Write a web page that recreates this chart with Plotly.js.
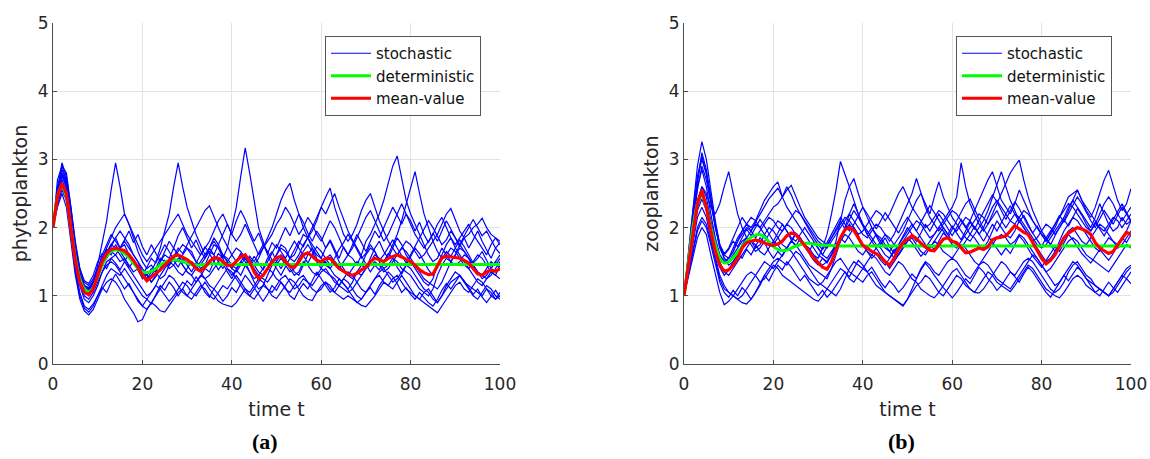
<!DOCTYPE html>
<html>
<head>
<meta charset="utf-8">
<script src="https://cdn.plot.ly/plotly-3.0.1.min.js"></script>
<style>html,body{margin:0;padding:0;background:#fff;}#chart{width:1150px;height:459px;}</style>
</head>
<body>
<div id="chart"></div>
<script>
// ---------- Panel (a): phytoplankton, t = 0..100 (step 1) ----------
const phytoStoch1 = [2.0,2.6,2.85,2.7,2.2,1.7,1.35,1.15,1.1,1.2,1.45,
1.75,2.1,2.55,2.95,2.6,2.2,2.05,1.85,1.65,1.5,
1.4,1.45,1.35,1.5,1.6,1.55,1.7,1.6,1.45,1.35,
1.3,1.2,1.28,1.4,1.35,1.5,1.62,1.55,1.4,1.3,
1.38,1.5,1.45,1.35,1.2,1.1,1.15,1.3,1.45,1.6,
1.75,1.7,1.55,1.6,1.75,1.9,1.85,1.7,1.55,1.45,
1.5,1.4,1.3,1.25,1.18,1.1,1.2,1.35,1.3,1.4,
1.55,1.7,1.8,1.65,1.55,1.7,1.85,1.75,1.6,1.5,
1.4,1.3,1.2,1.15,1.25,1.45,1.6,1.75,1.85,1.7,
1.6,1.5,1.4,1.3,1.2,1.15,1.25,1.35,1.3,1.45];
const phytoStoch2 = [2.0,2.4,2.7,2.55,2.0,1.5,1.15,0.95,0.9,1.0,1.15,
1.35,1.5,1.55,1.6,1.5,1.55,1.45,1.35,1.4,1.3,
1.25,1.35,1.5,1.7,1.95,2.2,2.6,2.95,2.6,2.3,
2.1,1.9,1.75,1.6,1.7,1.85,1.75,1.6,1.5,1.4,
1.5,1.6,1.5,1.35,1.25,1.3,1.4,1.55,1.65,1.5,
1.4,1.5,1.45,1.35,1.3,1.45,1.6,1.7,1.6,1.55,
1.7,1.8,1.65,1.5,1.4,1.3,1.25,1.35,1.45,1.6,
1.7,1.65,1.5,1.4,1.45,1.55,1.5,1.4,1.35,1.3,
1.2,1.1,1.05,1.0,1.1,1.3,1.45,1.55,1.5,1.6,
1.75,1.65,1.55,1.4,1.35,1.25,1.3,1.4,1.5,1.6];
const phytoStoch3 = [2.0,2.55,2.95,2.75,2.3,1.75,1.4,1.2,1.15,1.25,1.4,
1.6,1.75,1.9,1.8,1.7,1.75,1.6,1.5,1.45,1.35,
1.3,1.4,1.35,1.25,1.3,1.45,1.55,1.5,1.6,1.7,
1.65,1.5,1.4,1.45,1.6,1.75,1.7,1.55,1.7,2.0,
2.3,2.75,3.17,2.8,2.4,2.0,1.8,1.6,1.45,1.5,
1.6,1.55,1.4,1.3,1.35,1.5,1.45,1.35,1.3,1.4,
1.55,1.6,1.5,1.4,1.5,1.6,1.55,1.45,1.6,1.8,
1.9,2.05,2.2,2.4,2.65,2.9,3.05,2.7,2.4,2.2,
2.05,1.9,1.75,1.6,1.5,1.55,1.7,1.6,1.5,1.45,
1.5,1.6,1.55,1.45,1.35,1.3,1.4,1.5,1.45,1.55];
const phytoStoch4 = [2.0,2.3,2.5,2.3,1.8,1.3,0.95,0.78,0.72,0.8,0.95,
1.1,1.2,1.25,1.2,1.1,0.95,0.85,0.75,0.62,0.65,
0.8,0.9,0.85,0.78,0.76,0.85,0.95,1.05,1.1,1.0,
0.95,1.05,1.15,1.1,1.0,0.95,1.05,1.15,1.1,1.2,
1.3,1.2,1.1,1.0,0.95,1.05,1.15,1.1,1.0,0.96,
1.05,1.15,1.25,1.2,1.1,1.0,0.95,0.93,1.05,1.15,
1.2,1.1,1.05,1.15,1.25,1.2,1.1,1.0,0.95,1.05,
1.15,1.25,1.3,1.2,1.15,1.25,1.3,1.2,1.1,1.05,
1.0,0.95,1.05,1.1,1.0,0.9,1.0,1.1,1.2,1.25,
1.3,1.2,1.15,1.1,1.05,1.0,1.1,1.05,0.95,1.0];
const phytoStoch5 = [2.0,2.5,2.8,2.6,2.1,1.6,1.3,1.1,1.05,1.15,1.3,
1.45,1.55,1.65,1.6,1.7,1.8,1.7,1.6,1.5,1.4,
1.3,1.2,1.3,1.4,1.5,1.45,1.55,1.65,1.75,1.7,
1.6,1.5,1.45,1.55,1.65,1.6,1.5,1.4,1.5,1.6,
1.7,1.65,1.55,1.5,1.45,1.55,1.7,1.85,2.0,2.2,
2.4,2.55,2.65,2.4,2.2,2.0,1.85,1.75,1.65,1.55,
1.45,1.4,1.5,1.45,1.35,1.3,1.4,1.5,1.45,1.4,
1.5,1.6,1.55,1.5,1.6,1.75,1.9,2.1,2.35,2.6,
2.82,2.5,2.2,2.0,1.8,1.65,1.55,1.6,1.7,1.65,
1.55,1.45,1.4,1.5,1.6,1.55,1.45,1.35,1.3,1.25];
const phytoStoch6 = [2.0,2.35,2.6,2.45,1.95,1.4,1.05,0.85,0.8,0.88,1.0,
1.15,1.3,1.4,1.35,1.3,1.4,1.3,1.2,1.1,1.0,
0.95,1.05,1.15,1.1,1.0,0.92,1.0,1.1,1.2,1.15,
1.05,1.0,1.1,1.2,1.1,1.0,0.92,0.88,0.86,0.84,
0.9,1.0,1.1,1.05,1.15,1.25,1.2,1.1,1.05,1.15,
1.25,1.3,1.2,1.1,1.15,1.25,1.2,1.1,1.05,1.1,
1.2,1.15,1.05,1.0,0.95,1.0,0.95,0.9,0.86,0.84,
0.92,1.0,1.1,1.2,1.15,1.1,1.2,1.3,1.2,1.1,
1.0,0.95,0.9,0.85,0.8,0.75,0.85,0.95,1.05,1.15,
1.2,1.1,1.05,1.15,1.25,1.2,1.1,1.0,0.95,1.05];
const phytoStoch7 = [2.0,2.45,2.75,2.6,2.15,1.65,1.3,1.1,1.0,1.1,1.25,
1.45,1.6,1.75,1.85,1.95,1.85,1.75,1.6,1.5,1.35,
1.25,1.3,1.4,1.55,1.5,1.4,1.45,1.55,1.45,1.35,
1.3,1.4,1.5,1.6,1.7,1.8,1.7,1.6,1.55,1.45,
1.4,1.5,1.6,1.55,1.45,1.35,1.3,1.4,1.5,1.6,
1.7,1.65,1.55,1.5,1.6,1.75,1.85,1.95,2.1,2.3,
2.45,2.58,2.3,2.1,1.9,1.8,1.9,2.05,2.25,2.4,
2.5,2.3,2.1,1.95,1.8,1.7,1.6,1.7,1.8,1.75,
1.65,1.55,1.6,1.7,1.8,1.9,2.05,2.2,2.28,2.1,
1.95,1.85,1.9,2.0,2.05,2.14,2.0,1.9,1.85,1.75];
const phytoStoch8 = [2.0,2.5,2.9,2.7,2.25,1.7,1.35,1.15,1.12,1.2,1.35,
1.5,1.65,1.75,1.7,1.6,1.5,1.4,1.3,1.2,1.1,
1.0,1.05,1.15,1.3,1.4,1.5,1.45,1.35,1.3,1.4,
1.5,1.45,1.35,1.25,1.3,1.4,1.5,1.6,1.5,1.4,
1.35,1.45,1.55,1.5,1.4,1.3,1.25,1.2,1.3,1.45,
1.55,1.45,1.35,1.4,1.55,1.65,1.75,1.65,1.5,1.4,
1.35,1.3,1.25,1.15,1.1,1.05,1.1,1.2,1.3,1.4,
1.45,1.5,1.45,1.35,1.4,1.5,1.6,1.7,1.65,1.55,
1.45,1.35,1.25,1.2,1.15,1.1,1.2,1.35,1.5,1.6,
1.7,1.65,1.55,1.45,1.35,1.3,1.25,1.3,1.4,1.5];
const phytoStoch9 = [2.0,2.4,2.65,2.5,2.05,1.55,1.2,1.0,0.95,1.05,1.2,
1.35,1.45,1.5,1.45,1.35,1.25,1.15,1.05,0.95,0.85,
0.8,0.9,1.0,1.1,1.2,1.3,1.25,1.15,1.05,1.0,
1.1,1.2,1.3,1.25,1.15,1.1,1.2,1.3,1.4,1.35,
1.25,1.15,1.05,1.0,1.1,1.2,1.3,1.4,1.35,1.25,
1.2,1.1,1.05,1.15,1.25,1.3,1.2,1.15,1.25,1.35,
1.4,1.3,1.2,1.15,1.25,1.35,1.3,1.2,1.1,1.05,
1.15,1.25,1.35,1.4,1.3,1.2,1.25,1.35,1.45,1.4,
1.3,1.2,1.1,1.05,0.95,0.9,1.0,1.15,1.25,1.35,
1.3,1.2,1.1,1.0,0.95,1.05,1.15,1.1,1.0,0.95];
const phytoStoch10 = [2.0,2.55,2.8,2.65,2.15,1.65,1.3,1.12,1.08,1.18,1.35,
1.55,1.7,1.85,2.0,2.1,2.2,2.05,1.9,1.75,1.6,
1.5,1.6,1.7,1.8,1.9,2.0,2.1,2.2,2.05,1.9,
1.8,1.7,1.6,1.7,1.8,1.95,2.1,2.2,2.05,1.9,
1.8,1.9,2.05,1.9,1.75,1.6,1.7,1.8,1.9,2.05,
2.15,2.3,2.2,2.05,1.9,2.0,2.15,2.05,1.9,1.8,
1.95,2.1,2.0,1.85,1.7,1.6,1.7,1.85,2.0,2.15,
2.25,2.1,1.95,1.8,1.9,2.05,2.2,2.35,2.2,2.05,
1.9,1.8,1.7,1.8,1.9,2.05,2.15,2.0,1.85,1.75,
1.85,1.95,2.05,1.9,1.8,1.7,1.6,1.75,1.85,1.8];
const phytoStoch11 = [2.0,2.7,2.9,2.8,2.3,1.8,1.4,1.22,1.18,1.3,1.5,
1.62,1.55,1.72,1.85,1.7,1.82,1.95,1.78,1.9,1.72,
1.6,1.75,1.62,1.5,1.65,1.8,1.7,1.88,2.0,1.85,
1.7,1.82,1.66,1.55,1.7,1.6,1.75,1.92,2.05,1.9,
2.1,2.25,2.12,1.95,1.8,1.92,1.75,1.62,1.78,1.7,
1.85,2.0,1.88,2.05,2.2,2.08,1.92,1.8,1.95,1.85,
1.7,1.82,1.68,1.55,1.72,1.6,1.75,1.9,1.78,1.65,
1.8,1.95,1.85,2.0,2.15,2.3,2.18,2.05,2.2,2.1,
1.95,2.08,1.9,1.78,1.92,1.8,1.95,2.1,1.98,1.85,
1.72,1.85,1.7,1.82,1.95,1.8,1.68,1.55,1.7,1.62];
const phytoStoch12 = [2.0,2.35,2.55,2.4,1.9,1.35,1.0,0.82,0.76,0.85,1.0,
1.12,1.05,1.2,1.32,1.22,1.1,1.18,1.05,0.92,0.85,
0.95,0.88,1.02,1.15,1.08,1.2,1.12,1.0,1.1,1.22,
1.15,1.28,1.18,1.05,0.98,1.1,1.02,0.92,1.0,1.12,
1.05,1.18,1.3,1.22,1.12,1.0,0.92,1.02,1.15,1.08,
1.2,1.12,1.0,0.95,1.08,1.18,1.1,1.22,1.35,1.25,
1.15,1.05,1.12,1.25,1.18,1.08,0.98,0.9,0.95,1.05,
1.12,1.02,1.15,1.25,1.35,1.28,1.18,1.05,1.12,1.02,
0.95,1.05,0.98,0.9,0.85,0.95,1.08,1.18,1.1,1.2,
1.3,1.22,1.12,1.02,1.1,0.98,0.9,1.0,1.08,0.98];
const phytoStoch13 = [2.0,2.5,2.78,2.62,2.1,1.6,1.28,1.1,1.06,1.15,1.32,
1.48,1.4,1.55,1.48,1.38,1.5,1.62,1.52,1.4,1.3,
1.42,1.55,1.48,1.62,1.75,1.65,1.52,1.42,1.55,1.45,
1.35,1.48,1.6,1.72,1.62,1.5,1.38,1.48,1.35,1.25,
1.38,1.3,1.45,1.58,1.5,1.62,1.75,1.65,1.52,1.4,
1.3,1.42,1.55,1.68,1.8,1.72,1.85,2.0,2.15,2.3,
2.2,2.35,2.5,2.3,2.12,1.95,1.82,1.7,1.58,1.45,
1.35,1.45,1.38,1.5,1.62,1.55,1.42,1.32,1.45,1.58,
1.7,1.62,1.5,1.38,1.3,1.42,1.55,1.65,1.58,1.7,
1.82,1.72,1.6,1.48,1.55,1.65,1.52,1.4,1.5,1.38];
const phytoStoch14 = [2.0,2.45,2.8,2.68,2.2,1.68,1.32,1.15,1.1,1.22,1.4,
1.55,1.68,1.6,1.75,1.65,1.55,1.42,1.5,1.38,1.25,
1.32,1.2,1.28,1.4,1.52,1.45,1.58,1.7,1.62,1.75,
1.88,2.0,2.12,2.25,2.32,2.15,2.0,1.85,1.72,1.6,
1.5,1.62,1.55,1.45,1.58,1.48,1.38,1.5,1.62,1.75,
1.65,1.55,1.68,1.8,1.7,1.58,1.48,1.6,1.72,1.65,
1.55,1.45,1.55,1.68,1.78,1.9,1.8,1.68,1.55,1.62,
1.75,1.65,1.52,1.6,1.72,1.82,1.7,1.58,1.48,1.6,
1.72,1.85,1.98,2.1,2.0,1.88,1.75,1.82,1.95,1.85,
1.75,1.88,2.0,2.12,2.0,1.88,1.95,1.82,1.7,1.78];

const phytoMean = [2.0,2.45,2.65,2.5,2.0,1.5,1.2,1.05,1.02,1.1,1.3,
1.5,1.62,1.68,1.7,1.68,1.66,1.6,1.52,1.42,1.3,
1.22,1.27,1.33,1.38,1.45,1.52,1.58,1.6,1.57,1.53,
1.48,1.4,1.36,1.42,1.5,1.56,1.55,1.5,1.45,1.44,
1.5,1.57,1.6,1.5,1.35,1.25,1.3,1.4,1.5,1.56,
1.58,1.5,1.43,1.42,1.5,1.6,1.63,1.58,1.52,1.5,
1.55,1.55,1.48,1.4,1.36,1.32,1.3,1.33,1.38,1.42,
1.5,1.55,1.53,1.5,1.55,1.58,1.6,1.57,1.54,1.5,
1.45,1.38,1.34,1.31,1.32,1.45,1.56,1.58,1.57,1.57,
1.55,1.52,1.48,1.4,1.32,1.3,1.35,1.38,1.36,1.4];

const phytoDetT = [0,1,2,3,4,5,6,7,8,9,10,11,12,13,14,15,16,17,18,19,20,21,22,23,24,25,26,27,28,29,30,31,32,33,34,35,36,38,40,50,60,70,80,90,100];
const phytoDet  = [2.0,2.45,2.62,2.45,2.0,1.55,1.25,1.1,1.06,1.12,1.28,1.45,1.58,1.65,1.67,1.66,1.62,1.56,1.48,1.4,1.35,1.34,1.36,1.4,1.45,1.49,1.52,1.53,1.52,1.5,1.48,1.46,1.45,1.45,1.46,1.47,1.47,1.46,1.46,1.46,1.46,1.46,1.46,1.46,1.46];

// ---------- Panel (b): zooplankton, t = 0..100 (step 1) ----------
const zooStoch1 = [1.0,1.6,2.3,2.9,3.26,3.0,2.55,2.1,1.75,1.55,1.45,
1.5,1.6,1.75,1.85,1.8,1.7,1.75,1.9,2.0,1.95,
1.85,1.75,1.7,1.8,1.9,1.85,1.75,1.65,1.6,1.55,
1.7,1.9,2.2,2.55,2.97,2.8,2.6,2.4,2.2,2.05,
1.95,1.85,1.75,1.7,1.6,1.55,1.65,1.75,1.85,1.95,
2.05,1.95,1.85,1.75,1.7,1.8,1.9,2.0,1.9,1.8,
1.75,1.7,1.8,1.9,1.85,1.75,1.7,1.8,1.95,2.1,
2.0,1.9,1.85,1.95,2.1,2.0,1.9,1.8,1.7,1.6,
1.5,1.55,1.65,1.8,1.95,2.05,2.15,2.1,2.0,1.9,
1.8,1.7,1.65,1.75,1.85,1.8,1.7,1.75,1.85,1.95];
const zooStoch2 = [1.0,1.5,2.0,2.4,2.6,2.5,2.3,2.2,2.35,2.6,2.82,
2.5,2.2,2.0,1.85,1.75,1.65,1.7,1.8,1.9,2.0,
2.1,2.05,1.95,1.85,1.8,1.9,2.0,1.9,1.8,1.7,
1.6,1.55,1.65,1.75,1.85,1.95,2.05,1.95,1.85,1.75,
1.65,1.6,1.7,1.8,1.9,1.85,1.75,1.7,1.8,1.9,
2.0,2.1,2.05,1.95,1.85,1.9,2.0,2.1,2.2,2.3,
2.45,2.95,2.6,2.35,2.2,2.05,1.95,2.05,2.15,2.25,
2.1,2.0,2.1,2.2,2.15,2.05,1.95,1.85,1.75,1.7,
1.75,1.85,1.95,2.05,2.15,2.3,2.4,2.3,2.2,2.1,
2.0,2.15,2.35,2.2,2.05,1.95,2.0,2.15,2.05,2.1];
const zooStoch3 = [1.0,1.45,1.95,2.35,2.6,2.45,2.1,1.8,1.6,1.5,1.55,
1.65,1.8,1.95,2.05,2.0,2.1,2.25,2.4,2.5,2.6,
2.67,2.45,2.3,2.2,2.1,2.0,1.9,1.8,1.7,1.6,
1.55,1.5,1.6,1.7,1.8,1.9,1.85,1.75,1.65,1.6,
1.7,1.8,1.9,1.85,1.75,1.65,1.55,1.6,1.7,1.8,
1.9,1.85,1.75,1.7,1.8,1.9,2.0,1.95,1.85,1.75,
1.7,1.8,1.9,2.0,2.1,2.2,2.15,2.05,2.2,2.35,
2.5,2.65,2.8,2.9,2.99,2.7,2.45,2.25,2.1,1.95,
1.85,1.75,1.65,1.75,1.85,1.95,2.0,1.9,1.8,1.75,
1.85,1.95,2.05,2.0,1.9,1.8,1.75,1.85,1.95,2.1];
const zooStoch4 = [1.0,1.3,1.6,1.85,2.0,1.9,1.6,1.3,1.05,0.87,0.92,
1.0,1.1,1.2,1.3,1.35,1.3,1.2,1.25,1.35,1.45,
1.4,1.3,1.25,1.2,1.15,1.1,1.05,1.0,0.95,0.92,
1.0,1.1,1.2,1.3,1.4,1.35,1.25,1.2,1.3,1.4,
1.35,1.25,1.15,1.1,1.05,1.0,0.95,0.9,0.85,0.95,
1.05,1.15,1.2,1.3,1.25,1.15,1.05,1.0,1.1,1.2,
1.3,1.25,1.15,1.1,1.05,1.15,1.25,1.35,1.3,1.2,
1.15,1.1,1.06,1.15,1.25,1.35,1.45,1.4,1.3,1.2,
1.1,1.05,1.0,0.97,1.05,1.15,1.25,1.3,1.25,1.15,
1.1,1.05,1.1,1.05,1.0,1.1,1.2,1.3,1.25,1.35];
const zooStoch5 = [1.0,1.35,1.7,2.0,2.15,2.05,1.8,1.5,1.25,1.1,1.05,
1.0,0.95,0.9,0.88,0.95,1.05,1.15,1.3,1.4,1.5,
1.55,1.5,1.45,1.55,1.65,1.6,1.5,1.4,1.3,1.2,
1.15,1.1,1.05,1.0,1.1,1.25,1.4,1.5,1.45,1.4,
1.5,1.6,1.55,1.45,1.35,1.3,1.4,1.5,1.45,1.35,
1.25,1.2,1.1,1.05,1.0,0.97,1.05,1.15,1.25,1.35,
1.4,1.3,1.2,1.1,1.05,1.04,1.1,1.2,1.3,1.4,
1.5,1.45,1.35,1.3,1.4,1.5,1.55,1.5,1.4,1.3,
1.2,1.1,1.05,1.1,1.2,1.35,1.45,1.5,1.4,1.3,
1.25,1.15,1.1,1.05,1.0,1.05,1.15,1.25,1.35,1.42];
const zooStoch6 = [1.0,1.55,2.1,2.6,2.85,2.6,2.2,1.85,1.6,1.5,1.55,
1.7,1.85,1.95,2.05,2.15,2.1,2.0,2.1,2.2,2.3,
2.35,2.45,2.55,2.62,2.45,2.3,2.15,2.05,1.95,1.85,
1.8,1.75,1.85,1.95,2.05,2.15,2.1,2.0,1.9,1.95,
2.05,2.15,2.25,2.2,2.1,2.2,2.35,2.5,2.6,2.45,
2.3,2.2,2.1,2.0,2.05,2.15,2.25,2.2,2.1,2.0,
1.95,2.05,2.15,2.1,2.0,1.9,2.0,2.15,2.3,2.4,
2.3,2.2,2.1,2.05,2.15,2.25,2.2,2.1,2.0,1.9,
1.8,1.9,2.0,2.15,2.3,2.45,2.5,2.55,2.4,2.25,
2.15,2.3,2.5,2.7,2.84,2.6,2.4,2.25,2.35,2.57];
const zooStoch7 = [1.0,1.5,1.95,2.3,2.5,2.35,2.05,1.75,1.5,1.35,1.3,
1.4,1.5,1.6,1.7,1.8,1.75,1.65,1.6,1.7,1.8,
1.75,1.65,1.7,1.8,1.75,1.65,1.55,1.45,1.4,1.35,
1.3,1.25,1.4,1.6,1.8,2.0,2.2,2.35,2.2,2.05,
1.9,1.8,1.7,1.6,1.5,1.4,1.5,1.6,1.7,1.8,
1.85,1.75,1.65,1.6,1.7,1.8,1.75,1.65,1.6,1.55,
1.65,1.75,1.7,1.6,1.5,1.45,1.55,1.65,1.75,1.85,
1.9,1.85,1.75,1.8,1.9,1.85,1.75,1.65,1.55,1.45,
1.35,1.4,1.5,1.6,1.7,1.8,1.85,1.8,1.7,1.6,
1.55,1.5,1.45,1.4,1.35,1.45,1.55,1.65,1.75,1.7];
const zooStoch8 = [1.0,1.5,2.05,2.55,2.9,2.7,2.35,2.0,1.7,1.55,1.5,
1.6,1.7,1.8,1.85,1.95,2.05,2.0,1.9,1.8,1.75,
1.85,1.95,2.05,2.0,1.9,1.8,1.75,1.7,1.6,1.5,
1.45,1.5,1.6,1.8,2.1,2.4,2.6,2.72,2.5,2.3,
2.15,2.0,1.9,1.8,1.7,1.65,1.75,1.85,1.95,2.1,
2.25,2.4,2.5,2.35,2.2,2.45,2.67,2.45,2.3,2.15,
2.05,1.95,1.85,1.8,1.9,2.0,2.1,2.25,2.45,2.65,
2.82,2.6,2.4,2.25,2.1,2.0,1.9,1.8,1.85,1.95,
2.05,2.0,1.9,2.0,2.1,2.25,2.4,2.55,2.4,2.3,
2.2,2.1,2.0,1.95,2.05,2.15,2.1,2.0,2.1,2.2];
const zooStoch9 = [1.0,1.4,1.8,2.15,2.3,2.15,1.85,1.55,1.3,1.15,1.05,
1.0,0.95,1.0,1.1,1.2,1.3,1.4,1.5,1.45,1.4,
1.5,1.6,1.7,1.65,1.55,1.45,1.35,1.25,1.2,1.15,
1.2,1.3,1.4,1.5,1.55,1.45,1.35,1.3,1.25,1.2,
1.3,1.35,1.25,1.15,1.05,1.0,0.95,0.9,0.86,0.95,
1.1,1.25,1.4,1.5,1.45,1.35,1.3,1.4,1.5,1.55,
1.5,1.4,1.3,1.25,1.35,1.45,1.5,1.45,1.35,1.25,
1.2,1.15,1.1,1.2,1.3,1.4,1.5,1.6,1.55,1.45,
1.35,1.25,1.15,1.2,1.3,1.4,1.5,1.45,1.35,1.25,
1.2,1.15,1.1,1.05,1.0,1.1,1.2,1.3,1.4,1.45];
const zooStoch10 = [1.0,1.55,2.15,2.65,3.1,2.85,2.45,2.05,1.75,1.6,1.55,
1.65,1.8,1.9,2.0,1.95,1.85,1.95,2.05,2.15,2.1,
2.0,1.95,2.05,2.15,2.25,2.2,2.1,2.0,1.9,1.8,
1.75,1.7,1.8,1.9,2.0,2.1,2.2,2.1,2.0,1.9,
1.85,1.95,2.05,2.0,1.9,1.8,1.9,2.05,2.2,2.35,
2.5,2.72,2.5,2.3,2.15,2.05,1.95,2.05,2.15,2.25,
2.2,2.1,2.0,2.1,2.25,2.4,2.55,2.7,2.82,2.6,
2.4,2.3,2.2,2.35,2.55,2.4,2.25,2.1,2.0,1.9,
1.85,1.95,2.05,2.15,2.25,2.35,2.3,2.2,2.1,2.0,
1.95,2.05,2.2,2.35,2.45,2.35,2.2,2.1,2.2,2.3];
const zooStoch11 = [1.0,1.65,2.25,2.75,3.05,2.8,2.4,2.0,1.72,1.6,1.68,
1.8,1.72,1.85,1.98,1.88,2.0,2.12,2.02,1.9,1.8,
1.92,2.05,1.95,1.82,1.72,1.85,1.75,1.65,1.78,1.7,
1.6,1.72,1.85,1.98,2.1,1.98,2.12,2.25,2.15,2.02,
1.9,2.0,1.88,1.75,1.85,1.72,1.62,1.75,1.88,2.0,
1.9,1.8,1.92,2.05,1.95,2.08,2.2,2.1,1.98,1.88,
2.0,2.12,2.02,1.9,2.02,1.92,1.8,1.92,2.05,1.95,
2.08,2.2,2.32,2.2,2.08,2.18,2.05,1.92,1.82,1.72,
1.85,1.75,1.88,2.0,2.12,2.02,2.15,2.28,2.18,2.05,
1.95,2.08,1.98,1.88,2.0,2.12,2.25,2.35,2.22,2.1];
const zooStoch12 = [1.0,1.3,1.65,1.95,2.1,2.0,1.75,1.45,1.2,1.05,0.98,
1.08,1.0,1.12,1.05,0.95,1.05,1.18,1.3,1.22,1.35,
1.45,1.38,1.5,1.42,1.32,1.22,1.3,1.2,1.1,1.0,
1.08,0.98,1.05,1.15,1.25,1.35,1.28,1.4,1.52,1.45,
1.35,1.42,1.3,1.2,1.12,1.22,1.15,1.05,1.12,1.22,
1.32,1.25,1.38,1.48,1.4,1.3,1.2,1.12,1.05,0.97,
1.05,1.15,1.25,1.18,1.3,1.42,1.35,1.25,1.18,1.08,
1.15,1.25,1.35,1.28,1.2,1.32,1.42,1.35,1.25,1.15,
1.05,0.98,1.08,1.18,1.3,1.22,1.32,1.42,1.35,1.25,
1.15,1.05,1.0,1.1,1.2,1.12,1.05,1.15,1.25,1.18];
const zooStoch13 = [1.0,1.45,1.9,2.25,2.42,2.25,1.95,1.65,1.42,1.3,1.38,
1.5,1.62,1.55,1.68,1.6,1.72,1.85,1.78,1.65,1.55,
1.65,1.58,1.7,1.82,1.92,1.85,1.72,1.62,1.52,1.45,
1.55,1.48,1.6,1.72,1.85,1.78,1.9,2.0,1.88,1.75,
1.65,1.55,1.62,1.52,1.45,1.55,1.68,1.6,1.72,1.85,
1.78,1.68,1.58,1.65,1.75,1.68,1.8,1.92,1.85,1.98,
2.1,2.22,2.35,2.42,2.28,2.12,1.98,1.88,1.78,1.68,
1.6,1.7,1.62,1.75,1.88,1.8,1.68,1.58,1.5,1.42,
1.52,1.62,1.72,1.65,1.78,1.9,1.82,1.72,1.62,1.55,
1.48,1.58,1.68,1.6,1.52,1.62,1.75,1.85,1.78,1.9];
const zooStoch14 = [1.0,1.6,2.2,2.7,3.0,2.78,2.4,2.02,1.75,1.62,1.7,
1.85,2.0,2.15,2.05,1.95,2.08,2.2,2.32,2.42,2.5,
2.58,2.45,2.6,2.48,2.32,2.2,2.08,1.95,1.85,1.75,
1.68,1.78,1.9,2.02,2.15,2.05,1.95,2.05,2.18,2.3,
2.2,2.08,1.98,2.1,2.22,2.12,2.02,1.92,2.05,2.15,
2.05,1.95,2.08,2.2,2.32,2.22,2.1,2.0,1.9,2.02,
1.92,1.82,1.95,2.08,1.98,2.1,2.22,2.35,2.48,2.38,
2.25,2.12,2.25,2.38,2.28,2.15,2.02,1.92,2.02,1.9,
1.8,1.92,2.05,2.18,2.08,2.2,2.32,2.45,2.35,2.22,
2.1,2.0,2.12,2.25,2.15,2.05,2.18,2.3,2.2,2.08];

const zooMean = [1.0,1.45,1.95,2.35,2.55,2.3,1.95,1.65,1.45,1.36,1.38,
1.45,1.55,1.7,1.78,1.8,1.82,1.8,1.77,1.75,1.74,
1.76,1.8,1.88,1.92,1.9,1.82,1.74,1.65,1.55,1.48,
1.42,1.39,1.5,1.67,1.85,1.97,2.0,1.96,1.85,1.74,
1.7,1.65,1.62,1.57,1.5,1.45,1.55,1.68,1.78,1.83,
1.88,1.84,1.77,1.72,1.67,1.66,1.74,1.83,1.85,1.8,
1.78,1.7,1.63,1.64,1.67,1.7,1.68,1.72,1.82,1.85,
1.86,1.88,1.95,2.03,1.98,1.93,1.9,1.78,1.68,1.55,
1.47,1.52,1.6,1.72,1.85,1.92,1.96,2.0,1.98,1.95,
1.9,1.78,1.7,1.66,1.62,1.65,1.75,1.85,1.93,1.9];

const zooDetT = [0,1,2,3,4,5,6,7,8,9,10,11,12,13,14,15,16,17,18,19,20,21,22,23,24,25,26,27,28,29,30,32,35,40,50,60,70,80,90,100];
const zooDet  = [1.0,1.5,2.0,2.35,2.48,2.3,2.0,1.75,1.55,1.48,1.5,1.56,1.64,1.72,1.8,1.86,1.89,1.9,1.86,1.79,1.72,1.68,1.66,1.67,1.7,1.73,1.75,1.77,1.77,1.76,1.75,1.74,1.73,1.73,1.73,1.73,1.73,1.73,1.73,1.73];

const xTicks = [0,20,40,60,80,100];
const yTicks = [0,1,2,3,4,5];
const legendNames = ["stochastic","deterministic","mean-value"];
const yTitles = ["phytoplankton","zooplankton"];
const xTitle = "time t";
const panelLabels = ["(a)","(b)"];

// ---------- build traces ----------
const idx = arr => arr.map((_, i) => i);
const BLUE = "#0000ff", GREEN = "#00ff00", RED = "#ff0000";

function panelTraces(stochList, detT, det, mean, xa, ya, leg) {
  const tr = [];
  stochList.forEach((s, k) => {
    tr.push({x: idx(s), y: s, xaxis: xa, yaxis: ya, type: "scatter", mode: "lines",
      line: {color: BLUE, width: 1.2}, name: legendNames[0], legend: leg,
      legendgroup: leg + "s", showlegend: k === 0, hoverinfo: "skip"});
  });
  tr.push({x: detT, y: det, xaxis: xa, yaxis: ya, type: "scatter", mode: "lines",
    line: {color: GREEN, width: 3, shape: "spline", smoothing: 0.6}, name: legendNames[1], legend: leg});
  tr.push({x: idx(mean), y: mean, xaxis: xa, yaxis: ya, type: "scatter", mode: "lines",
    line: {color: RED, width: 3.2}, name: legendNames[2], legend: leg});
  return tr;
}

const data = [].concat(
  panelTraces([phytoStoch1,phytoStoch2,phytoStoch3,phytoStoch4,phytoStoch5,phytoStoch6,phytoStoch7,
               phytoStoch8,phytoStoch9,phytoStoch10,phytoStoch11,phytoStoch12,phytoStoch13,phytoStoch14],
              phytoDetT, phytoDet, phytoMean, "x", "y", "legend"),
  panelTraces([zooStoch1,zooStoch2,zooStoch3,zooStoch4,zooStoch5,zooStoch6,zooStoch7,
               zooStoch8,zooStoch9,zooStoch10,zooStoch11,zooStoch12,zooStoch13,zooStoch14],
              zooDetT, zooDet, zooMean, "x2", "y2", "legend2")
);

const FONT = "DejaVu Sans, Verdana, sans-serif";
const TICKC = "#262626";
function xAx(domain, anchor) {
  return {domain: domain, anchor: anchor, range: [0, 100], tickvals: xTicks, ticktext: xTicks.map(String),
    showgrid: true, gridcolor: "#e3e3e3", gridwidth: 1, zeroline: false,
    showline: true, linecolor: "#4d4d4d", linewidth: 1, ticks: "inside", ticklen: 4, tickcolor: "#4d4d4d",
    ticklabelstandoff: 5,
    tickfont: {family: FONT, size: 17, color: TICKC},
    title: {text: xTitle, font: {family: FONT, size: 19, color: TICKC}, standoff: 9}};
}
function yAx(domain, anchor, title) {
  return {domain: domain, anchor: anchor, range: [0, 5], tickvals: yTicks, ticktext: yTicks.map(String),
    showgrid: true, gridcolor: "#e3e3e3", gridwidth: 1, zeroline: false,
    showline: true, linecolor: "#4d4d4d", linewidth: 1, ticks: "inside", ticklen: 4, tickcolor: "#4d4d4d",
    tickfont: {family: FONT, size: 17, color: TICKC},
    title: {text: title, font: {family: FONT, size: 19, color: TICKC}, standoff: 5}};
}
const yDom = [1 - 364/459, 1 - 23/459];
const legendStyle = (x) => ({x: x, y: 1 - 36/459, xanchor: "left", yanchor: "top",
  bgcolor: "#ffffff", bordercolor: "#555555", borderwidth: 1,
  font: {family: FONT, size: 15, color: "#111"}, itemwidth: 40, tracegroupgap: 0});

const layout = {
  width: 1150, height: 459, margin: {l: 0, r: 0, t: 0, b: 0},
  paper_bgcolor: "#ffffff", plot_bgcolor: "#ffffff", showlegend: true,
  xaxis: xAx([53/1150, 500/1150], "y"),
  yaxis: yAx(yDom, "x", yTitles[0]),
  xaxis2: xAx([684/1150, 1131/1150], "y2"),
  yaxis2: yAx(yDom, "x2", yTitles[1]),
  legend: legendStyle(325/1150),
  legend2: legendStyle(956/1150),
  annotations: [
    {text: "<b>" + panelLabels[0] + "</b>", xref: "paper", yref: "paper", x: 265/1150, y: 1 - 441/459,
     xanchor: "center", yanchor: "middle",
     showarrow: false, font: {family: "Liberation Serif, Times New Roman, serif", size: 22, color: "#000"}},
    {text: "<b>" + panelLabels[1] + "</b>", xref: "paper", yref: "paper", x: 901/1150, y: 1 - 441/459,
     xanchor: "center", yanchor: "middle",
     showarrow: false, font: {family: "Liberation Serif, Times New Roman, serif", size: 22, color: "#000"}}
  ]
};

Plotly.newPlot("chart", data, layout, {staticPlot: true, displayModeBar: false});
</script>
</body>
</html>
